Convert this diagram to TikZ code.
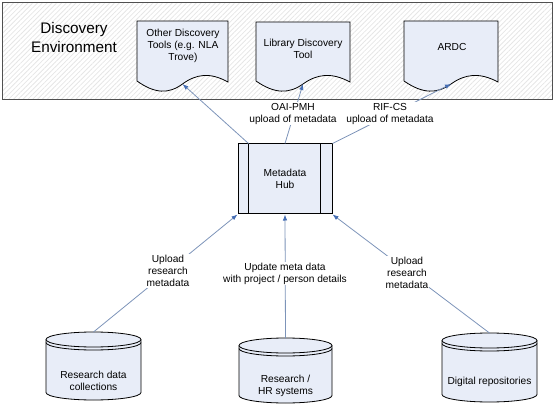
\documentclass[tikz,border=0pt]{standalone}
\usepackage{fontspec}
\setmainfont{Liberation Sans}
\usetikzlibrary{arrows.meta,patterns.meta}
\definecolor{shapefill}{RGB}{232,237,248}
\definecolor{hatchc}{RGB}{230,230,230}
\definecolor{connc}{RGB}{125,148,185}
\definecolor{tipc}{RGB}{70,110,180}
\definecolor{framec}{RGB}{80,80,80}
\newcommand\docshape[4]{% name, x1, x2, top
  \pgfmathsetmacro\dw{#3-#2}
  \draw[shp] (#2,#4) -- (#3,#4) -- (#3,82)
    .. controls (#2+0.8*\dw,72) and (#2+0.65*\dw,74) .. (#2+0.5*\dw,84)
    .. controls (#2+0.35*\dw,94) and (#2+0.2*\dw,94) .. (#2,81) -- cycle;
  \coordinate (#1-tip) at (#2+0.5*\dw,84);
}
\newcommand\cylshape[5]{% name, x1, x2, top, bottom
  \pgfmathsetmacro\cx{(#2+#3)/2}
  \pgfmathsetmacro\rx{(#3-#2)/2}
  \draw[shp] (#2,#4+7.5) -- (#2,#5-7.5)
    arc[start angle=180,end angle=360,x radius=\rx pt,y radius=7.5pt]
    -- (#3,#4+7.5)
    arc[start angle=0,end angle=180,x radius=\rx pt,y radius=7.5pt] -- cycle;
  \draw[line width=0.8pt] (#2,#4+7.5) arc[start angle=180,end angle=360,x radius=\rx pt,y radius=7.5pt];
  \draw[line width=0.8pt] (#2,#4+10.5) arc[start angle=180,end angle=360,x radius=\rx pt,y radius=7.5pt];
  \coordinate (#1-top) at (\cx,#4);
}
\begin{document}
\begin{tikzpicture}[x=1pt,y=-1pt,
  txt/.style={font=\fontsize{10.2}{12}\selectfont, align=center, inner sep=1pt},
  lbl/.style={txt, fill=white},
  shp/.style={draw=black, line width=0.8pt, fill=shapefill},
  connector/.style={draw=connc, line width=0.8pt, -{Latex[length=6pt,width=4.5pt,color=tipc]}},
]
\useasboundingbox (0,0) rectangle (554,406);

% discovery environment frame
\node[draw=framec, line width=1.6pt, pattern={Lines[angle=45,distance=3.4pt,line width=0.8pt]},
      pattern color=hatchc, minimum width=550pt, minimum height=97pt, inner sep=0pt,
      anchor=north west] (env) at (2,2) {};
\node[font=\fontsize{15.3}{19}\selectfont, align=center] (envlabel) at (74,38) {Discovery\\Environment};

% documents
\docshape{d1}{137}{228}{21}
\docshape{d2}{256}{350}{22}
\docshape{d3}{404}{498}{21}
\node[txt] (doc1) at (183,45.5) {Other Discovery\\Tools (e.g. NLA\\Trove)};
\node[txt] (doc2) at (303,48.5) {Library Discovery\\Tool};
\node[txt] (doc3) at (452,47) {ARDC};

% hub
\node[shp, txt, line width=1pt, minimum width=94pt, minimum height=70pt] (hub) at (285,179) {Metadata\\Hub};
\draw[line width=1pt] ([xshift=11pt]hub.north west) -- ([xshift=11pt]hub.south west);
\draw[line width=1pt] ([xshift=-12pt]hub.north east) -- ([xshift=-12pt]hub.south east);

% cylinders
\cylshape{c1}{46}{141}{332}{400}
\cylshape{c2}{239}{332}{338}{403}
\cylshape{c3}{442}{537}{333}{402}
\node[txt] (cyl1) at (93.5,381) {Research data\\collections};
\node[txt] (cyl2) at (285.5,386) {Research /\\HR systems};
\node[txt] (cyl3) at (489.5,382) {Digital repositories};

% connectors
\draw[connector] (c1-top) -- (hub.south west);
\draw[connector] (c2-top) -- (hub.south);
\draw[connector] (c3-top) -- (hub.south east);
\draw[connector] ([xshift=11pt]hub.north west) -- (d1-tip);
\draw[connector] (hub.north) -- (d2-tip);
\draw[connector] (hub.north east) -- (d3-tip);

% labels
\node[lbl] (l1) at (168,271) {Upload\\research\\metadata};
\node[lbl] (l2) at (285,273.5) {Update meta data\\with project / person details};
\node[lbl] (l3) at (407,273) {Upload\\research\\metadata};
\node[lbl] (l4) at (293,113.5) {OAI-PMH\\upload of metadata};
\node[lbl] (l5) at (390,113.5) {RIF-CS\\upload of metadata};
\end{tikzpicture}
\end{document}
